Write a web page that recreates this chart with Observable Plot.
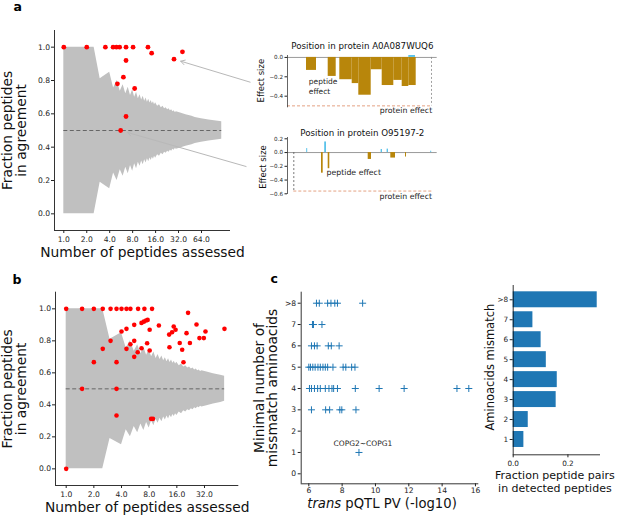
<!DOCTYPE html>
<html><head><meta charset="utf-8">
<script src="https://cdn.jsdelivr.net/npm/d3@7"></script>
<script src="https://cdn.jsdelivr.net/npm/@observablehq/plot@0.6"></script>
<style>
body{margin:0;background:#fff;}
#fig{position:relative;width:617px;height:516px;overflow:hidden;background:#fff;}
#fig svg{position:absolute;}
</style></head><body><div id="fig"></div>
<script>
// ---------- data ----------
const bandPeptides = [1, 2.5, 3, 4, 4.5, 5, 5.5, 6, 6.5, 7, 7.5, 8, 8.5, 9, 9.5, 10, 10.5, 11, 11.5, 12, 12.5, 13, 13.5, 14, 14.5, 15, 15.5, 16, 17, 18, 19, 20, 21, 22, 23, 24, 25, 26, 27, 28, 29, 30, 34, 40, 48, 53, 64, 80, 100, 118];
const bandUpper = [1, 1, 0.81, 0.85, 0.755, 0.80, 0.735, 0.775, 0.72, 0.76, 0.71, 0.745, 0.70, 0.73, 0.69, 0.715, 0.683, 0.705, 0.676, 0.695, 0.67, 0.688, 0.665, 0.68, 0.66, 0.673, 0.655, 0.667, 0.645, 0.655, 0.637, 0.645, 0.63, 0.637, 0.624, 0.63, 0.618, 0.624, 0.613, 0.618, 0.608, 0.613, 0.605, 0.595, 0.585, 0.578, 0.57, 0.563, 0.557, 0.553];
const bandLower = [0, 0, 0.19, 0.15, 0.245, 0.20, 0.265, 0.225, 0.28, 0.24, 0.29, 0.255, 0.30, 0.27, 0.31, 0.285, 0.317, 0.295, 0.324, 0.305, 0.33, 0.312, 0.335, 0.32, 0.34, 0.327, 0.345, 0.333, 0.355, 0.345, 0.363, 0.355, 0.37, 0.363, 0.376, 0.37, 0.382, 0.376, 0.387, 0.382, 0.392, 0.387, 0.395, 0.405, 0.415, 0.422, 0.43, 0.437, 0.443, 0.447];
const bBandMax = 53;

const aPeptides = [1, 2, 3.51, 4.43, 4.9, 5.4, 6.55, 8.1, 12.7, 14.2, 27.9, 36, 6.55, 6.05, 5.05, 8.5, 6.55, 5.57];
const aAgreement = [1, 1, 1, 1, 1, 1, 1, 1, 1, 0.964, 0.928, 0.972, 0.92, 0.82, 0.78, 0.752, 0.584, 0.5];

const bPeptides = [1, 1.49, 2, 2.5, 3.04, 3.53, 4, 4.53, 5.0, 6.06, 7.1, 8.6,
  21.2, 26.2, 52.8, 32.8, 28.2, 31.5, 22.2, 17.2, 20.4, 14.8, 15.5, 14.2, 13.2, 13.3, 18.3, 18.9,
  10.2, 8.1, 6.6, 7.0, 7.4, 7.7, 8.1, 7.6, 6.6, 6.0, 5.5, 5.5, 5.5, 4.0, 4.53, 4.53, 5.0, 3.04, 2.5, 2.0, 3.53, 3.53, 1.49, 3.53, 8.4, 8.8, 1];
const bAgreement = [1, 1, 1, 1, 1, 1, 1, 1, 1, 1, 1, 1,
  0.975, 0.902, 0.875, 0.858, 0.817, 0.817, 0.787, 0.787, 0.848, 0.89, 0.869, 0.854, 0.839, 0.76, 0.744, 0.666,
  0.896, 0.869, 0.912, 0.92, 0.927, 0.931, 0.74, 0.785, 0.754, 0.729, 0.70, 0.80, 0.90, 0.858, 0.875, 0.75, 0.779, 0.80, 0.75, 0.667, 0.667, 0.5, 0.5, 0.333, 0.3125, 0.3125, 0];

const aTicks = [1, 2, 4, 8, 16, 32, 64];
const bTicks = [1, 2, 4, 8, 16, 32];
const fracTicks = [0, 0.2, 0.4, 0.6, 0.8, 1.0];

// inset 1: Position in protein A0A087WUQ6
const inset1Title = "Position in protein A0A087WUQ6";
const inset1Start = [19, 40.7, 52.3, 64.7, 71.3, 83.7, 94.7, 106.3, 114.7, 121.3];
const inset1End = [29, 48.7, 64.7, 71.3, 83.7, 94.7, 106.3, 114.7, 121.3, 128.7];
const inset1Effect = [-0.134, -0.196, -0.23, -0.27, -0.39, -0.127, -0.29, -0.237, -0.30, -0.29];
const inset1PosStart = [121.3];
const inset1PosEnd = [128];
const inset1PosEffect = [0.02];
const inset1Protein = -0.5;
const inset1ProteinEnd = 144;
const inset1Ticks = [0, -0.2, -0.4];

// inset 2: Position in protein O95197-2
const inset2Title = "Position in protein O95197-2";
const inset2NegStart = [34, 40.7, 80.7, 103.3, 118];
const inset2NegEnd = [35.7, 42.3, 84, 108, 119];
const inset2NegEffect = [-0.30, -0.235, -0.10, -0.08, -0.065];
const inset2PosStart = [19.2, 37.2, 93.6, 99.6, 143.2];
const inset2PosEnd = [20.2, 39.0, 95.0, 101.0, 144.2];
const inset2PosEffect = [0.058, 0.154, 0.044, 0.05, 0.02];
const inset2Protein = -0.56;
const inset2ProteinStart = 6.3;
const inset2ProteinEnd = 144.5;
const inset2Ticks = [0.2, 0, -0.2, -0.4, -0.6];

// panel c scatter
const pqtlPV = [6.46, 6.63, 7.13, 7.33, 7.56, 7.72, 9.23,
  6.22, 6.28, 6.79,
  6.16, 6.34, 6.5, 7.17, 7.35, 7.82,
  6.0, 6.1, 6.24, 6.38, 6.55, 6.69, 6.85, 6.99, 7.13, 7.45, 8.06, 8.22, 8.57, 8.77,
  6.04, 6.16, 6.34, 6.53, 6.69, 6.99, 7.21, 7.39, 7.49, 7.72, 8.79, 10.22, 11.72, 14.89, 15.6,
  6.16, 7.01, 7.25, 7.86, 7.98, 8.83,
  9.01];
const mismatchMin = [8, 8, 8, 8, 8, 8, 8,
  7, 7, 7,
  6, 6, 6, 6, 6, 6,
  5, 5, 5, 5, 5, 5, 5, 5, 5, 5, 5, 5, 5, 5,
  4, 4, 4, 4, 4, 4, 4, 4, 4, 4, 4, 4, 4, 4, 4,
  3, 3, 3, 3, 3, 3,
  1];
const copgLabel = "COPG2~COPG1";
const copgPV = 9.01;
const copgMismatch = 1;
const cXTicks = [6, 8, 10, 12, 14, 16];
const cYTicks = [0, 1, 2, 3, 4, 5, 6, 7, 8];
const cYLabels = ["0", "1", "2", "3", "4", "5", "6", "7", ">8"];

// panel c bars
const mismatchLevels = [1, 2, 3, 4, 5, 6, 7, 8];
const mismatchLabels = ["1", "2", "3", "4", "5", "6", "7", ">8"];
const pairFraction = [0.039, 0.055, 0.157, 0.161, 0.121, 0.102, 0.072, 0.307];

// arrows from panel a points to the insets
const arrowFromN = [278, 246];
const arrowFromF = [0.79, 0.284];
const arrowToN = [27.9, 5.57];
const arrowToF = [0.928, 0.5];

// ---------- drawing ----------
const FONT = "DejaVu Sans";
const fig = document.getElementById("fig");
function place(svg, left, top) { svg.style.left = left + "px"; svg.style.top = top + "px"; fig.appendChild(svg); }
function st(fs) { return {background: "transparent", overflow: "visible", fontFamily: FONT, fontSize: fs + "px", color: "#222"}; }
const f1 = d3.format(".1f");

const bandData = bandPeptides.map((n, i) => ({n, lo: bandLower[i], hi: bandUpper[i]}));
const aPts = aPeptides.map((n, i) => ({n, f: aAgreement[i]}));
const bPts = bPeptides.map((n, i) => ({n, f: bAgreement[i]}));
const arrows = arrowFromN.map((n, i) => ({x1: n, y1: arrowFromF[i], x2: arrowToN[i], y2: arrowToF[i]}));
const labelFS = 13.8, tickFS = 7.6;

// panel a
const xaDom = [0.755, 153.7], yDom = [-0.1, 1.1];
const pa = Plot.plot({
  width: 260, height: 262, marginLeft: 54, marginRight: 30, marginTop: 30, marginBottom: 32,
  style: st(tickFS),
  x: {type: "log", base: 2, domain: xaDom, axis: null},
  y: {domain: yDom, axis: null},
  marks: [
    Plot.areaY(bandData, {x: "n", y1: "lo", y2: "hi", fill: "#c0c0c0"}),
    Plot.ruleY([0.5], {x1: bandPeptides[0], x2: bandPeptides[bandPeptides.length - 1], stroke: "#666", strokeWidth: 1, strokeDasharray: "4,2.5"}),
    Plot.dot(aPts, {x: "n", y: "f", r: 2.4, fill: "#ff0000"}),
    Plot.arrow(arrows, {x1: "x1", y1: "y1", x2: "x2", y2: "y2", stroke: "#b8b8b8", strokeWidth: 1, headLength: 7, insetEnd: 7}),
    Plot.ruleX([xaDom[0]], {stroke: "#000", strokeWidth: 0.8}),
    Plot.ruleY([yDom[0]], {stroke: "#000", strokeWidth: 0.8}),
    Plot.axisX({ticks: aTicks, tickFormat: f1, tickSize: 3, tickPadding: 3.5, fontSize: tickFS, label: null}),
    Plot.axisY({ticks: fracTicks, tickFormat: f1, tickSize: 3, tickPadding: 1.5, fontSize: tickFS, label: null}),
    Plot.text(["Number of peptides assessed"], {frameAnchor: "bottom", dy: 26.8, lineAnchor: "bottom", textAnchor: "middle", fontSize: labelFS, fill: "#111"}),
    Plot.text(["Fraction peptides\nin agreement"], {frameAnchor: "left", rotate: -90, dx: -29, lineAnchor: "bottom", textAnchor: "middle", lineHeight: 0.97, fontSize: labelFS, fill: "#111"}),
    Plot.text(["a"], {frameAnchor: "top-left", dx: -41, dy: -19.5, lineAnchor: "bottom", textAnchor: "start", fontWeight: "bold", fontSize: 12.5, fill: "#000"})
  ]
});
place(pa, 0, 0);

// inset 1
const in1Bars = inset1Start.map((s, i) => ({s, e: inset1End[i], v: inset1Effect[i]}));
const in1Pos = inset1PosStart.map((s, i) => ({s, e: inset1PosEnd[i], v: inset1PosEffect[i]}));
const in1X = [0, 149.7], in1Y = [-0.52, 0.02];
const in1 = Plot.plot({
  width: 200, height: 90, marginLeft: 47, marginRight: 3.3, marginTop: 25, marginBottom: 12.7,
  style: st(5.6),
  x: {domain: in1X, axis: null},
  y: {domain: in1Y, axis: null},
  marks: [
    Plot.ruleY([0], {stroke: "#9a9a9a", strokeWidth: 1}),
    Plot.rect(in1Bars, {x1: "s", x2: "e", y1: 0, y2: "v", fill: "#b8860b"}),
    Plot.rect(in1Pos, {x1: "s", x2: "e", y1: 0, y2: "v", fill: "#5bc3ea"}),
    Plot.ruleY([inset1Protein], {x1: in1X[0], x2: inset1ProteinEnd, stroke: "#e4a283", strokeWidth: 1, strokeDasharray: "3,2"}),
    Plot.ruleX([inset1ProteinEnd], {y1: 0, y2: inset1Protein, stroke: "#888", strokeWidth: 0.8, strokeDasharray: "2,2"}),
    Plot.ruleX([in1X[0]], {stroke: "#222", strokeWidth: 0.7}),
    Plot.axisY({ticks: inset1Ticks, tickFormat: f1, tickSize: 2.5, tickPadding: 2, fontSize: 5.6, label: null}),
    Plot.text([inset1Title], {frameAnchor: "top", dy: -6.5, lineAnchor: "bottom", textAnchor: "middle", fontSize: 8.7, fill: "#111"}),
    Plot.text(["Effect size"], {frameAnchor: "left", rotate: -90, dx: -24, dy: -1, lineAnchor: "bottom", textAnchor: "middle", fontSize: 8.5, fill: "#111"}),
    Plot.text(["peptide\neffect"], {x: 21.3, y: -0.374, textAnchor: "start", lineAnchor: "bottom", lineHeight: 1.24, fontSize: 7.5, fill: "#222"}),
    Plot.text(["protein effect"], {x: inset1ProteinEnd + 0.7, y: inset1Protein, dy: 6.7, textAnchor: "end", lineAnchor: "bottom", fontSize: 7.8, fill: "#222"})
  ]
});
place(in1, 240, 30);

// inset 2
const in2Neg = inset2NegStart.map((s, i) => ({s, e: inset2NegEnd[i], v: inset2NegEffect[i]}));
const in2Pos = inset2PosStart.map((s, i) => ({s, e: inset2PosEnd[i], v: inset2PosEffect[i]}));
const in2X = [0, 149.7], in2Y = [-0.61, 0.219];
const in2 = Plot.plot({
  width: 200, height: 100, marginLeft: 47, marginRight: 3.3, marginTop: 27, marginBottom: 16,
  style: st(5.6),
  x: {domain: in2X, axis: null},
  y: {domain: in2Y, axis: null},
  marks: [
    Plot.ruleY([0], {stroke: "#9a9a9a", strokeWidth: 1}),
    Plot.rect(in2Neg, {x1: "s", x2: "e", y1: 0, y2: "v", fill: "#b8860b"}),
    Plot.rect(in2Pos, {x1: "s", x2: "e", y1: 0, y2: "v", fill: "#5bc3ea"}),
    Plot.ruleY([inset2Protein], {x1: inset2ProteinStart, x2: inset2ProteinEnd, stroke: "#e4a283", strokeWidth: 1, strokeDasharray: "3,2"}),
    Plot.ruleX([inset2ProteinStart], {y1: 0, y2: inset2Protein, stroke: "#555", strokeWidth: 0.8, strokeDasharray: "2,2"}),
    Plot.ruleX([in2X[0]], {stroke: "#222", strokeWidth: 0.7}),
    Plot.axisY({ticks: inset2Ticks, tickFormat: f1, tickSize: 2.5, tickPadding: 2, fontSize: 5.6, label: null}),
    Plot.text([inset2Title], {frameAnchor: "top", dy: -1.5, lineAnchor: "bottom", textAnchor: "middle", fontSize: 8.7, fill: "#111"}),
    Plot.text(["Effect size"], {frameAnchor: "left", rotate: -90, dx: -22, dy: 1, lineAnchor: "bottom", textAnchor: "middle", fontSize: 8.5, fill: "#111"}),
    Plot.text(["peptide effect"], {x: 39, y: inset2NegEffect[0], dy: 1.5, textAnchor: "start", lineAnchor: "bottom", fontSize: 7.8, fill: "#222"}),
    Plot.text(["protein effect"], {x: inset2ProteinEnd, y: inset2Protein, dy: 8.3, textAnchor: "end", lineAnchor: "bottom", fontSize: 7.8, fill: "#222"})
  ]
});
place(in2, 240, 110);

// panel b
const xbDom = [0.765, 75.6], ybDom = [-0.104, 1.104];
const pb = Plot.plot({
  width: 250, height: 254, marginLeft: 55, marginRight: 11.7, marginTop: 29.7, marginBottom: 31,
  style: st(tickFS),
  x: {type: "log", base: 2, domain: xbDom, axis: null},
  y: {domain: ybDom, axis: null},
  marks: [
    Plot.areaY(bandData.filter(d => d.n <= bBandMax), {x: "n", y1: "lo", y2: "hi", fill: "#c0c0c0"}),
    Plot.ruleY([0.5], {x1: bandPeptides[0], x2: bBandMax, stroke: "#666", strokeWidth: 1, strokeDasharray: "4,2.5"}),
    Plot.dot(bPts, {x: "n", y: "f", r: 2.3, fill: "#ff0000"}),
    Plot.ruleX([xbDom[0]], {stroke: "#000", strokeWidth: 0.8}),
    Plot.ruleY([ybDom[0]], {stroke: "#000", strokeWidth: 0.8}),
    Plot.axisX({ticks: bTicks, tickFormat: f1, tickSize: 3, tickPadding: 3.5, fontSize: tickFS, label: null}),
    Plot.axisY({ticks: fracTicks, tickFormat: f1, tickSize: 3, tickPadding: 1.5, fontSize: tickFS, label: null}),
    Plot.text(["Number of peptides assessed"], {frameAnchor: "bottom", dy: 26.5, lineAnchor: "bottom", textAnchor: "middle", fontSize: labelFS, fill: "#111"}),
    Plot.text(["Fraction peptides\nin agreement"], {frameAnchor: "left", rotate: -90, dx: -30, lineAnchor: "bottom", textAnchor: "middle", lineHeight: 0.97, fontSize: labelFS, fill: "#111"}),
    Plot.text(["b"], {frameAnchor: "top-left", dx: -43, dy: -8.7, lineAnchor: "bottom", textAnchor: "start", fontWeight: "bold", fontSize: 12.5, fill: "#000"})
  ]
});
place(pb, 0, 262);

// panel c scatter
const cPts = pqtlPV.map((pv, i) => ({pv, mm: mismatchMin[i]}));
const xcDom = [5.544, 16.2], ycDom = [-0.469, 8.516];
const cXLabel = "trans pQTL PV (-log10)";
const pc = Plot.plot({
  width: 245, height: 254, marginLeft: 60.7, marginRight: 6.7, marginTop: 29.7, marginBottom: 32.7,
  style: st(tickFS),
  x: {domain: xcDom, axis: null},
  y: {domain: ycDom, axis: null},
  marks: [
    Plot.dot(cPts, {x: "pv", y: "mm", symbol: "plus", r: 2.4, stroke: "#1f77b4", strokeWidth: 1}),
    Plot.text([copgLabel], {x: copgPV, y: copgMismatch, dx: 4, dy: -8.5, fontSize: 7.5, fill: "#222"}),
    Plot.ruleX([xcDom[0]], {stroke: "#000", strokeWidth: 0.8}),
    Plot.ruleY([ycDom[0]], {stroke: "#000", strokeWidth: 0.8}),
    Plot.axisX({ticks: cXTicks, tickSize: 3, tickPadding: 1, fontSize: tickFS, label: null}),
    Plot.axisY({ticks: cYTicks, tickFormat: d => cYLabels[cYTicks.indexOf(d)], tickSize: 3, tickPadding: 2, fontSize: tickFS, label: null}),
    Plot.text([cXLabel], {frameAnchor: "bottom", dx: -8, dy: 24, lineAnchor: "bottom", textAnchor: "middle", fontSize: 13.2, fill: "#111"}),
    Plot.text(["Minimal number of\nmissmatch aminoacids"], {frameAnchor: "left", rotate: -90, dx: -24, lineAnchor: "bottom", textAnchor: "middle", lineHeight: 0.97, fontSize: labelFS, fill: "#111"}),
    Plot.text(["c"], {frameAnchor: "top-left", dx: -30.7, dy: -9.7, lineAnchor: "bottom", textAnchor: "start", fontWeight: "bold", fontSize: 12.5, fill: "#000"})
  ]
});
pc.querySelectorAll("text").forEach(t => {
  if (t.textContent === cXLabel) {
    const ns = "http://www.w3.org/2000/svg";
    t.textContent = "";
    const a = document.createElementNS(ns, "tspan");
    a.setAttribute("font-style", "italic");
    a.textContent = "trans";
    const b = document.createElementNS(ns, "tspan");
    b.textContent = "\u00a0pQTL PV (-log10)";
    t.appendChild(a); t.appendChild(b);
  }
});
place(pc, 240, 262);

// panel c bars
const barData = mismatchLevels.map((k, i) => ({k, f: pairFraction[i]}));
const xdDom = [0, 0.319], ydDom = [0.233, 8.716];
const pd = Plot.plot({
  width: 157, height: 254, marginLeft: 52.7, marginRight: 17, marginTop: 23, marginBottom: 61.7,
  style: st(7.3),
  x: {domain: xdDom, axis: null},
  y: {domain: ydDom, axis: null},
  marks: [
    Plot.rect(barData, {x1: 0, x2: "f", y1: d => d.k - 0.4, y2: d => d.k + 0.4, fill: "#1f77b4"}),
    Plot.ruleX([xdDom[0]], {stroke: "#000", strokeWidth: 0.8}),
    Plot.ruleY([ydDom[0]], {stroke: "#000", strokeWidth: 0.8}),
    Plot.axisX({ticks: [0, 0.2], tickFormat: f1, tickSize: 3, tickPadding: 3.5, fontSize: 7.3, label: null}),
    Plot.axisY({ticks: mismatchLevels, tickFormat: d => mismatchLabels[mismatchLevels.indexOf(d)], tickSize: 3, tickPadding: 2, fontSize: 7.3, label: null}),
    Plot.text(["Fraction peptide pairs\nin detected peptides"], {frameAnchor: "bottom", dx: -2, dy: 36.7, lineAnchor: "bottom", textAnchor: "middle", lineHeight: 1.15, fontSize: 11, fill: "#111"}),
    Plot.text(["Aminoacids mismatch"], {frameAnchor: "left", rotate: -90, dx: -19.7, dy: -3, lineAnchor: "bottom", textAnchor: "middle", fontSize: 11.5, fill: "#111"})
  ]
});
place(pd, 460, 262);
</script></body></html>
